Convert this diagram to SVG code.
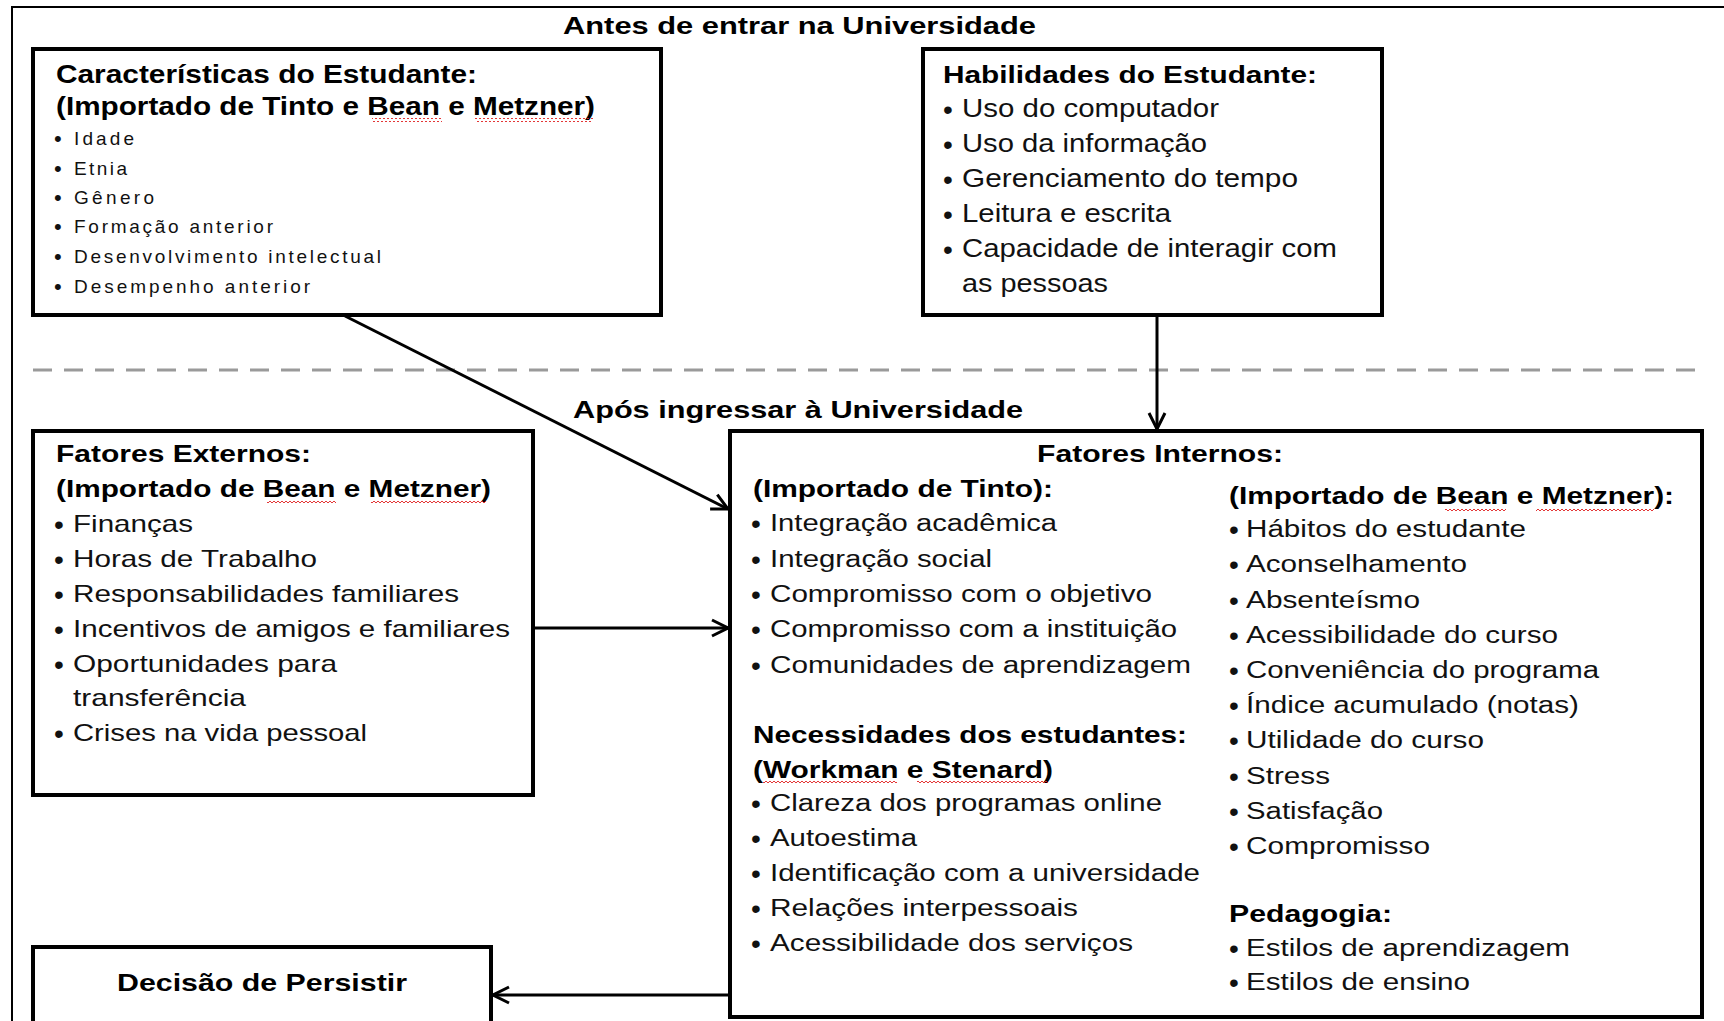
<svg xmlns="http://www.w3.org/2000/svg" width="1724" height="1021" viewBox="0 0 1724 1021">
<defs>
<style>
text{font-family:"Liberation Sans",Arial,Helvetica,sans-serif;fill:#111}
.hb{font-weight:bold;fill:#000}
.s23{font-size:23px}.s24{font-size:24px}.s25{font-size:25px}.s22{font-size:22px}.s19{font-size:19px}
.it{fill:#222}
.bl{font-size:28px}
.bs{font-size:22px}
.box{fill:#fff;stroke:#000;stroke-width:4}
.con{fill:none;stroke:#000;stroke-width:3}
.sq{fill:url(#sq)}
</style>
<pattern id="sq" width="4" height="4" patternUnits="userSpaceOnUse">
<path d="M0,3 L2,1 L4,3" fill="none" stroke="#e02020" stroke-width="0.9"/>
</pattern>
<marker id="ah" markerUnits="userSpaceOnUse" markerWidth="24" markerHeight="24" viewBox="0 0 24 24" refX="21" refY="12" orient="auto">
<path d="M5,4 L21,12 L5,20" fill="none" stroke="#000" stroke-width="3"/>
</marker>
</defs>
<rect width="1724" height="1021" fill="#fff"/>
<path d="M12,1030 V7 H1730" fill="none" stroke="#000" stroke-width="2"/>
<line x1="33" y1="370" x2="1704" y2="370" stroke="#9a9a9a" stroke-width="3" stroke-dasharray="19 12"/>
<text class="hb s24" x="563" y="34" textLength="473" lengthAdjust="spacingAndGlyphs">Antes de entrar na Universidade</text>
<text class="hb s24" x="573" y="418" textLength="450" lengthAdjust="spacingAndGlyphs">Após ingressar à Universidade</text>

<g id="connectors">
<line class="con" x1="345" y1="316" x2="728" y2="509" marker-end="url(#ah)"/>
<line class="con" x1="1157" y1="317" x2="1157" y2="429" marker-end="url(#ah)"/>
<line class="con" x1="535" y1="628" x2="728" y2="628" marker-end="url(#ah)"/>
<line class="con" x1="728" y1="995" x2="493" y2="995" marker-end="url(#ah)"/>
</g>

<g id="caracteristicas">
<rect class="box" x="33" y="49" width="628" height="266"/>
<text class="hb s25" x="56" y="83" textLength="421" lengthAdjust="spacingAndGlyphs">Características do Estudante:</text>
<text class="hb s25" x="56" y="115" textLength="539" lengthAdjust="spacingAndGlyphs">(Importado de Tinto e Bean e Metzner)</text>
<rect class="sq" x="372" y="118" width="70" height="4"/>
<rect class="sq" x="475" y="118" width="118" height="4"/>
<g class="s19 it">
<text class="bs" x="54" y="146">•</text><text x="74" y="145" textLength="60" lengthAdjust="spacing">Idade</text>
<text class="bs" x="54" y="176">•</text><text x="74" y="175" textLength="53" lengthAdjust="spacing">Etnia</text>
<text class="bs" x="54" y="205">•</text><text x="74" y="204" textLength="80" lengthAdjust="spacing">Gênero</text>
<text class="bs" x="54" y="234">•</text><text x="74" y="233" textLength="199" lengthAdjust="spacing">Formação anterior</text>
<text class="bs" x="54" y="264">•</text><text x="74" y="263" textLength="307" lengthAdjust="spacing">Desenvolvimento intelectual</text>
<text class="bs" x="54" y="294">•</text><text x="74" y="293" textLength="236" lengthAdjust="spacing">Desempenho anterior</text>
</g>
</g>

<g id="habilidades">
<rect class="box" x="923" y="49" width="459" height="266"/>
<text class="hb s24" x="943" y="83" textLength="374" lengthAdjust="spacingAndGlyphs">Habilidades do Estudante:</text>
<g class="s25 it">
<text class="bl" x="943" y="119">•</text><text x="962" y="117" textLength="257" lengthAdjust="spacingAndGlyphs">Uso do computador</text>
<text class="bl" x="943" y="154">•</text><text x="962" y="152" textLength="245" lengthAdjust="spacingAndGlyphs">Uso da informação</text>
<text class="bl" x="943" y="189">•</text><text x="962" y="187" textLength="336" lengthAdjust="spacingAndGlyphs">Gerenciamento do tempo</text>
<text class="bl" x="943" y="224">•</text><text x="962" y="222" textLength="209" lengthAdjust="spacingAndGlyphs">Leitura e escrita</text>
<text class="bl" x="943" y="259">•</text><text x="962" y="257" textLength="375" lengthAdjust="spacingAndGlyphs">Capacidade de interagir com</text>
<text x="962" y="292" textLength="146" lengthAdjust="spacingAndGlyphs">as pessoas</text>
</g>
</g>

<g id="fatores-externos">
<rect class="box" x="33" y="431" width="500" height="364"/>
<text class="hb s23" x="56" y="462" textLength="255" lengthAdjust="spacingAndGlyphs">Fatores Externos:</text>
<text class="hb s23" x="56" y="497" textLength="435" lengthAdjust="spacingAndGlyphs">(Importado de Bean e Metzner)</text>
<rect class="sq" x="267" y="500" width="69" height="4"/>
<rect class="sq" x="371" y="500" width="115" height="4"/>
<g class="s24 it">
<text class="bl" x="54" y="534">•</text><text x="73" y="532" textLength="120" lengthAdjust="spacingAndGlyphs">Finanças</text>
<text class="bl" x="54" y="569">•</text><text x="73" y="567" textLength="244" lengthAdjust="spacingAndGlyphs">Horas de Trabalho</text>
<text class="bl" x="54" y="604">•</text><text x="73" y="602" textLength="386" lengthAdjust="spacingAndGlyphs">Responsabilidades familiares</text>
<text class="bl" x="54" y="639">•</text><text x="73" y="637" textLength="437" lengthAdjust="spacingAndGlyphs">Incentivos de amigos e familiares</text>
<text class="bl" x="54" y="674">•</text><text x="73" y="672" textLength="264" lengthAdjust="spacingAndGlyphs">Oportunidades para</text>
<text x="73" y="706" textLength="173" lengthAdjust="spacingAndGlyphs">transferência</text>
<text class="bl" x="54" y="743">•</text><text x="73" y="741" textLength="294" lengthAdjust="spacingAndGlyphs">Crises na vida pessoal</text>
</g>
</g>

<g id="fatores-internos">
<rect class="box" x="730" y="431" width="972" height="586"/>
<text class="hb s23" x="1037" y="462" textLength="246" lengthAdjust="spacingAndGlyphs">Fatores Internos:</text>
<text class="hb s23" x="753" y="497" textLength="300" lengthAdjust="spacingAndGlyphs">(Importado de Tinto):</text>
<g class="s23 it">
<text class="bl" x="751" y="533">•</text><text x="770" y="531" textLength="287" lengthAdjust="spacingAndGlyphs">Integração acadêmica</text>
<text class="bl" x="751" y="569">•</text><text x="770" y="567" textLength="222" lengthAdjust="spacingAndGlyphs">Integração social</text>
<text class="bl" x="751" y="604">•</text><text x="770" y="602" textLength="382" lengthAdjust="spacingAndGlyphs">Compromisso com o objetivo</text>
<text class="bl" x="751" y="639">•</text><text x="770" y="637" textLength="407" lengthAdjust="spacingAndGlyphs">Compromisso com a instituição</text>
<text class="bl" x="751" y="675">•</text><text x="770" y="673" textLength="421" lengthAdjust="spacingAndGlyphs">Comunidades de aprendizagem</text>
</g>
<text class="hb s23" x="753" y="743" textLength="434" lengthAdjust="spacingAndGlyphs">Necessidades dos estudantes:</text>
<text class="hb s23" x="753" y="778" textLength="300" lengthAdjust="spacingAndGlyphs">(Workman e Stenard)</text>
<rect class="sq" x="763" y="781" width="134" height="4"/>
<rect class="sq" x="917" y="781" width="131" height="4"/>
<g class="s23 it">
<text class="bl" x="751" y="813">•</text><text x="770" y="811" textLength="392" lengthAdjust="spacingAndGlyphs">Clareza dos programas online</text>
<text class="bl" x="751" y="848">•</text><text x="770" y="846" textLength="147" lengthAdjust="spacingAndGlyphs">Autoestima</text>
<text class="bl" x="751" y="883">•</text><text x="770" y="881" textLength="430" lengthAdjust="spacingAndGlyphs">Identificação com a universidade</text>
<text class="bl" x="751" y="918">•</text><text x="770" y="916" textLength="308" lengthAdjust="spacingAndGlyphs">Relações interpessoais</text>
<text class="bl" x="751" y="953">•</text><text x="770" y="951" textLength="363" lengthAdjust="spacingAndGlyphs">Acessibilidade dos serviços</text>
</g>
<text class="hb s23" x="1229" y="504" textLength="445" lengthAdjust="spacingAndGlyphs">(Importado de Bean e Metzner):</text>
<rect class="sq" x="1445" y="507" width="61" height="4"/>
<rect class="sq" x="1536" y="507" width="118" height="4"/>
<g class="s23 it">
<text class="bl" x="1229" y="539">•</text><text x="1246" y="537" textLength="280" lengthAdjust="spacingAndGlyphs">Hábitos do estudante</text>
<text class="bl" x="1229" y="574">•</text><text x="1246" y="572" textLength="221" lengthAdjust="spacingAndGlyphs">Aconselhamento</text>
<text class="bl" x="1229" y="610">•</text><text x="1246" y="608" textLength="174" lengthAdjust="spacingAndGlyphs">Absenteísmo</text>
<text class="bl" x="1229" y="645">•</text><text x="1246" y="643" textLength="312" lengthAdjust="spacingAndGlyphs">Acessibilidade do curso</text>
<text class="bl" x="1229" y="680">•</text><text x="1246" y="678" textLength="353" lengthAdjust="spacingAndGlyphs">Conveniência do programa</text>
<text class="bl" x="1229" y="715">•</text><text x="1246" y="713" textLength="333" lengthAdjust="spacingAndGlyphs">Índice acumulado (notas)</text>
<text class="bl" x="1229" y="750">•</text><text x="1246" y="748" textLength="238" lengthAdjust="spacingAndGlyphs">Utilidade do curso</text>
<text class="bl" x="1229" y="786">•</text><text x="1246" y="784" textLength="84" lengthAdjust="spacingAndGlyphs">Stress</text>
<text class="bl" x="1229" y="821">•</text><text x="1246" y="819" textLength="137" lengthAdjust="spacingAndGlyphs">Satisfação</text>
<text class="bl" x="1229" y="856">•</text><text x="1246" y="854" textLength="184" lengthAdjust="spacingAndGlyphs">Compromisso</text>
</g>
<text class="hb s23" x="1229" y="922" textLength="163" lengthAdjust="spacingAndGlyphs">Pedagogia:</text>
<g class="s23 it">
<text class="bl" x="1229" y="958">•</text><text x="1246" y="956" textLength="324" lengthAdjust="spacingAndGlyphs">Estilos de aprendizagem</text>
<text class="bl" x="1229" y="992">•</text><text x="1246" y="990" textLength="224" lengthAdjust="spacingAndGlyphs">Estilos de ensino</text>
</g>
</g>

<g id="decisao">
<rect class="box" x="33" y="947" width="458" height="100"/>
<text class="hb s24" x="117" y="991" textLength="290" lengthAdjust="spacingAndGlyphs">Decisão de Persistir</text>
</g>
</svg>
